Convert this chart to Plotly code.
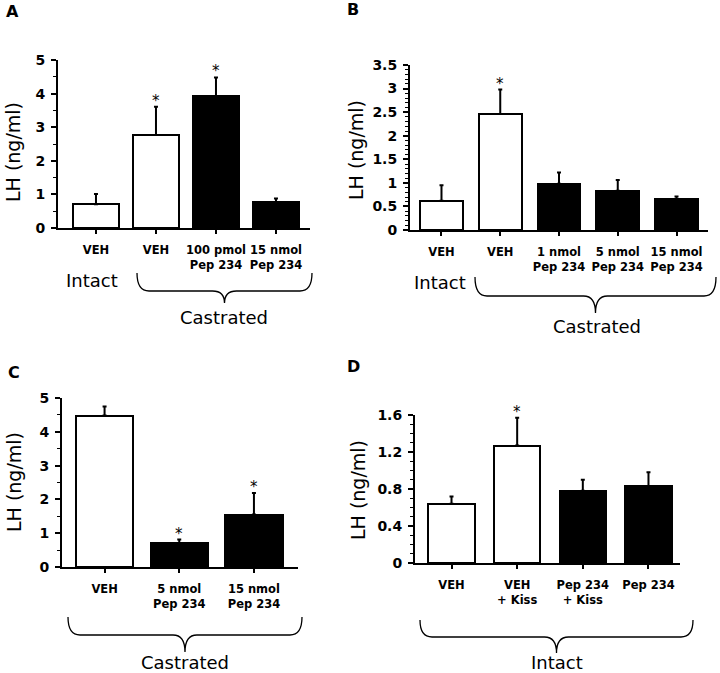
import plotly.graph_objects as go

W, H = 720, 673

# Panel A - castrated vs intact, 100 pmol / 15 nmol Pep 234
a_labels = ["VEH", "VEH", "100 pmol<br>Pep 234", "15 nmol<br>Pep 234"]
a_values = [0.71, 2.77, 3.93, 0.76]
a_err = [0.30, 0.84, 0.55, 0.12]
a_fill = ["white", "white", "black", "black"]
a_sig = [False, True, True, False]

# Panel B - dose series
b_labels = ["VEH", "VEH", "1 nmol<br>Pep 234", "5 nmol<br>Pep 234", "15 nmol<br>Pep 234"]
b_values = [0.62, 2.46, 0.98, 0.83, 0.65]
b_err = [0.33, 0.52, 0.24, 0.23, 0.06]
b_fill = ["white", "white", "black", "black", "black"]
b_sig = [False, True, False, False, False]

# Panel C - castrated only
c_labels = ["VEH", "5 nmol<br>Pep 234", "15 nmol<br>Pep 234"]
c_values = [4.48, 0.71, 1.55]
c_err = [0.27, 0.10, 0.64]
c_fill = ["white", "black", "black"]
c_sig = [False, True, True]

# Panel D - intact, with kisspeptin
d_labels = ["VEH", "VEH<br>+ Kiss", "Pep 234<br>+ Kiss", "Pep 234"]
d_values = [0.64, 1.27, 0.78, 0.83]
d_err = [0.08, 0.30, 0.12, 0.15]
d_fill = ["white", "white", "black", "black"]
d_sig = [False, True, False, False]

FONT = "DejaVu Sans"


def px(x, y):
    """pixel position -> paper coords"""
    return x / W, 1 - y / H


panels = [
    dict(letter="A", labels=a_labels, values=a_values, err=a_err, fill=a_fill, sig=a_sig,
         ymax=5, dtick=1, minor=0.5, box=(58, 310, 60, 228), xr=(-0.633, 3.567), bw=0.78,
         letter_pos=(12, 11), title_pos=(13, 152),
         groups=[("Intact", 92, 280), ("Castrated", 224, 317)],
         brace=(137, 312, 273, 291, 303)),
    dict(letter="B", labels=b_labels, values=b_values, err=b_err, fill=b_fill, sig=b_sig,
         ymax=3.5, dtick=0.5, minor=0.1, box=(410, 708, 65, 230), xr=(-0.536, 4.536), bw=0.73,
         letter_pos=(353, 10), title_pos=(356, 150),
         groups=[("Intact", 440, 282), ("Castrated", 597, 326)],
         brace=(475, 716, 277, 296, 313)),
    dict(letter="C", labels=c_labels, values=c_values, err=c_err, fill=c_fill, sig=c_sig,
         ymax=5, dtick=1, minor=0.5, box=(62, 298, 398, 567), xr=(-0.57, 2.59), bw=0.77,
         letter_pos=(14, 372), title_pos=(14, 482),
         groups=[("Castrated", 185, 662)],
         brace=(68, 302, 617, 635, 652)),
    dict(letter="D", labels=d_labels, values=d_values, err=d_err, fill=d_fill, sig=d_sig,
         ymax=1.6, dtick=0.4, minor=0.1, box=(415, 680, 415, 563), xr=(-0.556, 3.48), bw=0.71,
         letter_pos=(353, 367), title_pos=(358, 490),
         groups=[("Intact", 557, 662)],
         brace=(420, 693, 620, 637, 653)),
]

fig = go.Figure()
annotations = []
shapes = []
layout_axes = {}

for i, p in enumerate(panels, start=1):
    sfx = "" if i == 1 else str(i)
    xs = list(range(len(p["values"])))
    fig.add_trace(go.Bar(
        x=xs, y=p["values"], width=p["bw"],
        marker=dict(color=p["fill"], line=dict(color="black", width=2)),
        error_y=dict(type="data", symmetric=False, array=p["err"],
                     arrayminus=[0] * len(xs), color="black", thickness=2, width=2),
        xaxis="x" + sfx, yaxis="y" + sfx, showlegend=False, hoverinfo="skip",
    ))

    x0, x1, ytop, ybot = p["box"]
    dx0, dy0 = px(x0, ybot)
    dx1, dy1 = px(x1, ytop)
    layout_axes["xaxis" + sfx] = dict(
        domain=[dx0, dx1], anchor="y" + sfx, range=list(p["xr"]), automargin=False,
        tickvals=xs, ticktext=p["labels"], tickangle=0, showline=True, linecolor="black", linewidth=2,
        ticks="outside", ticklen=4, tickwidth=1.5, tickcolor="black",
        ticklabelstandoff=6, showgrid=False, zeroline=False,
        tickfont=dict(family=FONT, size=11.5, color="black", weight="bold"),
    )
    layout_axes["yaxis" + sfx] = dict(
        domain=[dy0, dy1], anchor="x" + sfx, range=[0, p["ymax"]], automargin=False,
        tick0=0, dtick=p["dtick"], showline=True, linecolor="black", linewidth=2,
        ticks="outside", ticklen=5, tickwidth=1.5, tickcolor="black",
        minor=dict(dtick=p["minor"], ticks="outside", ticklen=3, tickwidth=1, tickcolor="black"),
        showgrid=False, zeroline=False, ticklabelstandoff=3,
        tickfont=dict(family=FONT, size=14, color="black", weight="bold"),
    )

    # asterisks over significant bars
    for x, v, e, s in zip(xs, p["values"], p["err"], p["sig"]):
        if s:
            annotations.append(dict(
                x=x, y=v + e, xref="x" + sfx, yref="y" + sfx, text="*", showarrow=False,
                yanchor="middle", yshift=6, font=dict(family=FONT, size=15, color="black")))

    lx, ly = px(*p["letter_pos"])
    annotations.append(dict(x=lx, y=ly, xref="paper", yref="paper", text="<b>" + p["letter"] + "</b>",
                            showarrow=False, xanchor="center", yanchor="middle",
                            font=dict(family=FONT, size=16, color="black")))
    tx, ty = px(*p["title_pos"])
    annotations.append(dict(x=tx, y=ty, xref="paper", yref="paper", text="LH (ng/ml)", textangle=-90,
                            showarrow=False, xanchor="center", yanchor="middle",
                            font=dict(family=FONT, size=19, color="black")))
    for text, gx, gy in p["groups"]:
        ax, ay = px(gx, gy)
        annotations.append(dict(x=ax, y=ay, xref="paper", yref="paper", text=text, showarrow=False,
                                xanchor="center", yanchor="middle",
                                font=dict(family=FONT, size=18, color="black")))

    # curly brace under the grouped bars
    bx0, bx1, btop, bmid, bbot = p["brace"]
    bm = (bx0 + bx1) / 2
    r = 12

    def P(x, y):
        u, v = px(x, y)
        return f"{u:.5f},{v:.5f}"

    path = (f"M {P(bx0, btop)} Q {P(bx0, bmid)} {P(bx0 + r, bmid)} L {P(bm - r, bmid)} "
            f"Q {P(bm, bmid)} {P(bm, bbot)} Q {P(bm, bmid)} {P(bm + r, bmid)} "
            f"L {P(bx1 - r, bmid)} Q {P(bx1, bmid)} {P(bx1, btop)}")
    shapes.append(dict(type="path", path=path, xref="paper", yref="paper",
                       line=dict(color="black", width=1.3)))

fig.update_layout(
    width=W, height=H, margin=dict(l=0, r=0, t=0, b=0, autoexpand=False),
    paper_bgcolor="white", plot_bgcolor="white",
    annotations=annotations, shapes=shapes, bargap=0,
    **layout_axes,
)

# drop the browser's default 8px body margin so the figure sits at the page corner
fig.write_html("out.html", config={"displayModeBar": False},
               post_script="document.body.style.margin = '0';")
